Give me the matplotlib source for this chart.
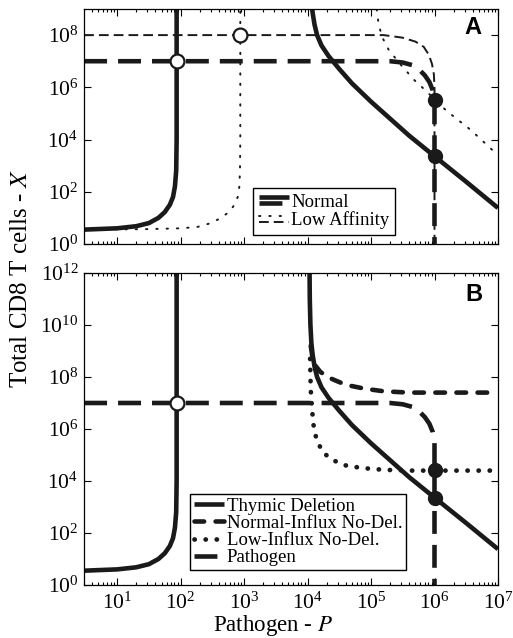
import numpy as np
import matplotlib
matplotlib.use("Agg")
import matplotlib.pyplot as plt
from matplotlib.lines import Line2D
from matplotlib.legend_handler import HandlerBase
from matplotlib.ticker import LogLocator, NullLocator

plt.rcParams['font.family'] = 'serif'
plt.rcParams['font.serif'] = ['Liberation Serif', 'DejaVu Serif']
plt.rcParams['mathtext.fontset'] = 'stix'

# --- data as log10 values (P, X) ---
# T cell nullcline with normal affinity / thymic deletion (same curve in A and B)
normal_left_logP = [0.48, 1.0, 1.3, 1.5, 1.65, 1.75, 1.83, 1.88, 1.91, 1.93, 1.937, 1.937]
normal_left_logX = [0.55, 0.6, 0.68, 0.8, 1.0, 1.22, 1.5, 1.8, 2.2, 2.8, 4.0, 12.5]
normal_right_logP = [4.03, 4.035, 4.045, 4.06, 4.08, 4.11, 4.15, 4.22, 4.33, 4.5, 4.7,
                     5.0, 5.3, 5.6, 6.0, 6.5, 7.0]
normal_right_logX = [12.5, 11.0, 10.0, 9.3, 8.85, 8.4, 8.0, 7.6, 7.2, 6.7, 6.15,
                     5.45, 4.8, 4.15, 3.36, 2.38, 1.38]
# panel A, low affinity
lowaff_left_logP = [0.48, 1.5, 2.0, 2.26, 2.45, 2.6, 2.75, 2.85, 2.9, 2.925, 2.935, 2.94, 2.94]
lowaff_left_logX = [0.55, 0.57, 0.6, 0.65, 0.78, 0.95, 1.2, 1.5, 1.8, 2.2, 2.8, 4.0, 9.5]
lowaff_right_logP = [5.06, 5.09, 5.12, 5.18, 5.28, 5.47, 5.68, 5.9, 6.0, 6.21, 6.57, 7.0]
lowaff_right_logX = [9.5, 9.0, 8.4, 7.9, 7.43, 6.86, 6.28, 5.79, 5.52, 5.06, 4.37, 3.4]
# pathogen nullclines
path_normal_logP = [0.48, 5.3, 5.5, 5.65, 5.75, 5.85, 5.92, 5.97, 6.0, 6.0]
path_normal_logX = [7.0, 7.0, 6.95, 6.85, 6.7, 6.45, 6.2, 5.9, 5.5, -0.5]
path_lowaff_logP = [0.48, 5.2, 5.5, 5.7, 5.83, 5.91, 5.96, 5.99, 6.0, 6.0]
path_lowaff_logX = [8.0, 8.0, 7.9, 7.75, 7.55, 7.25, 6.9, 6.5, 6.0, -0.5]
# steady states
a_stable_logP = [6.0, 6.0]
a_stable_logX = [5.52, 3.36]
a_unstable_logP = [1.937, 2.94]
a_unstable_logX = [7.0, 8.0]

# panel B, no deletion
nodel_normal_logP = [4.05, 4.09, 4.2, 4.33, 4.6, 4.9, 5.2, 5.6, 7.0]
nodel_normal_logX = [9.2, 8.54, 8.2, 7.98, 7.7, 7.55, 7.45, 7.4, 7.4]
nodel_low_logP = [4.04, 4.05, 4.07, 4.09, 4.14, 4.24, 4.4, 4.6, 4.85, 5.2, 5.6, 7.0]
nodel_low_logX = [8.7, 7.5, 6.8, 6.2, 5.6, 5.1, 4.8, 4.6, 4.5, 4.43, 4.4, 4.4]
b_stable_logP = [6.0, 6.0]
b_stable_logX = [4.42, 3.36]
b_unstable_logP = [1.937]
b_unstable_logX = [7.0]

x_ticks = [1e1, 1e2, 1e3, 1e4, 1e5, 1e6, 1e7]


def lg(a):
    return 10.0 ** np.asarray(a, dtype=float)


class StackedHandler(HandlerBase):
    # draws the lines of a tuple handle one above the other
    def create_artists(self, legend, orig_handle, xdescent, ydescent,
                       width, height, fontsize, trans):
        out = []
        offsets = [0.25 * height, -0.25 * height]
        for h, dy in zip(orig_handle, offsets):
            y = height / 2.0 - ydescent + dy
            ln = Line2D([-xdescent, -xdescent + width], [y, y])
            ln.update_from(h)
            ln.set_transform(trans)
            out.append(ln)
        return out


ink = '#1a1a1a'
thick = 3.3
thin = 1.4
solid_kw = dict(color=ink, lw=thick, solid_capstyle='butt')
path_kw = dict(color=ink, lw=thick, ls=(0, (5.0, 2.4)), dash_capstyle='butt')
thin_dot_kw = dict(color=ink, lw=thin, ls=(0, (0.7, 4.6)), dash_capstyle='round')
thin_dash_kw = dict(color=ink, lw=thin, ls=(0, (5.0, 2.6)), dash_capstyle='butt')
nd_dash_kw = dict(color=ink, lw=thick, ls=(0, (2.1, 2.5)), dash_capstyle='round')
nd_dot_kw = dict(color=ink, lw=3.4, ls=(0, (0.05, 2.3)), dash_capstyle='round')
stable_kw = dict(ls='none', marker='o', ms=10, mfc=ink, mec=ink, zorder=5)
unstable_kw = dict(ls='none', marker='o', ms=10, mfc='white', mec=ink, mew=1.6, zorder=5)

fig = plt.figure(figsize=(5.13, 6.38), dpi=100)
ax1 = fig.add_axes([0.1637, 0.6176, 0.807, 0.3683])
ax2 = fig.add_axes([0.1637, 0.0831, 0.807, 0.489])

# panel A
ax1.plot(lg(path_lowaff_logP), lg(path_lowaff_logX), **thin_dash_kw)
ax1.plot(lg(lowaff_left_logP), lg(lowaff_left_logX), **thin_dot_kw)
ax1.plot(lg(lowaff_right_logP), lg(lowaff_right_logX), **thin_dot_kw)
ax1.plot(lg(path_normal_logP), lg(path_normal_logX), **path_kw)
ax1.plot(lg(normal_left_logP), lg(normal_left_logX), **solid_kw)
ax1.plot(lg(normal_right_logP), lg(normal_right_logX), **solid_kw)
ax1.plot(lg(a_stable_logP), lg(a_stable_logX), **stable_kw)
ax1.plot(lg(a_unstable_logP), lg(a_unstable_logX), **unstable_kw)

h_norm = (Line2D([], [], **solid_kw), Line2D([], [], **path_kw))
h_low = (Line2D([], [], **thin_dot_kw), Line2D([], [], **thin_dash_kw))
ax1.legend([h_norm, h_low], ['Normal', 'Low Affinity'],
           handler_map={tuple: StackedHandler()},
           loc='lower left', bbox_to_anchor=(0.408, 0.038), borderaxespad=0,
           fontsize=13.5, fancybox=False, framealpha=1, edgecolor='black',
           handlelength=1.6, handletextpad=0.15, labelspacing=0.05,
           borderpad=0.3)
ax1.text(0.94, 0.92, 'A', transform=ax1.transAxes, ha='center', va='center',
         fontsize=17, fontweight='bold', family='Liberation Sans')

# panel B
ax2.plot(lg(path_normal_logP), lg(path_normal_logX), **path_kw)
ax2.plot(lg(nodel_low_logP), lg(nodel_low_logX), **nd_dot_kw)
ax2.plot(lg(nodel_normal_logP), lg(nodel_normal_logX), **nd_dash_kw)
ax2.plot(lg(normal_left_logP), lg(normal_left_logX), **solid_kw)
ax2.plot(lg(normal_right_logP), lg(normal_right_logX), **solid_kw)
ax2.plot(lg(b_stable_logP), lg(b_stable_logX), **stable_kw)
ax2.plot(lg(b_unstable_logP), lg(b_unstable_logX), **unstable_kw)

hb = [Line2D([], [], **solid_kw), Line2D([], [], **nd_dash_kw),
      Line2D([], [], **nd_dot_kw), Line2D([], [], **path_kw)]
ax2.legend(hb, ['Thymic Deletion', 'Normal-Influx No-Del.',
                'Low-Influx No-Del.', 'Pathogen'],
           loc='lower left', bbox_to_anchor=(0.256, 0.048), borderaxespad=0,
           fontsize=13.5, fancybox=False, framealpha=1, edgecolor='black',
           handlelength=1.6, handletextpad=0.15, labelspacing=0.0,
           borderpad=0.2)
ax2.text(0.942, 0.93, 'B', transform=ax2.transAxes, ha='center', va='center',
         fontsize=17, fontweight='bold', family='Liberation Sans')

for ax, ytop, yticks in [(ax1, 1e9, [1e0, 1e2, 1e4, 1e6, 1e8]),
                         (ax2, 1e12, [1e0, 1e2, 1e4, 1e6, 1e8, 1e10, 1e12])]:
    ax.set_xscale('log')
    ax.set_yscale('log')
    ax.set_xlim(3, 1e7)
    ax.set_ylim(1, ytop)
    ax.set_xticks(x_ticks)
    ax.xaxis.set_minor_locator(LogLocator(base=10, subs=np.arange(2, 10), numticks=20))
    ax.set_yticks(yticks)
    ax.yaxis.set_minor_locator(NullLocator())
    ax.tick_params(which='both', direction='in', top=True, right=True,
                   labelsize=15.5, width=0.8)
    ax.tick_params(which='major', length=5)
    ax.tick_params(which='minor', length=2.5)
    ax.tick_params(axis='x', pad=5.5)
    ax.tick_params(axis='y', pad=4)
    for sp in ax.spines.values():
        sp.set_linewidth(0.9)

ax1.tick_params(labelbottom=False)

fig.text(0.041, 0.563, 'Total CD8 T cells - $X$', rotation=90,
         ha='center', va='center', fontsize=18)
fig.text(0.532, 0.0, 'Pathogen - $P$', ha='center', va='bottom', fontsize=16.5)

fig.savefig('out.png', dpi=100)
